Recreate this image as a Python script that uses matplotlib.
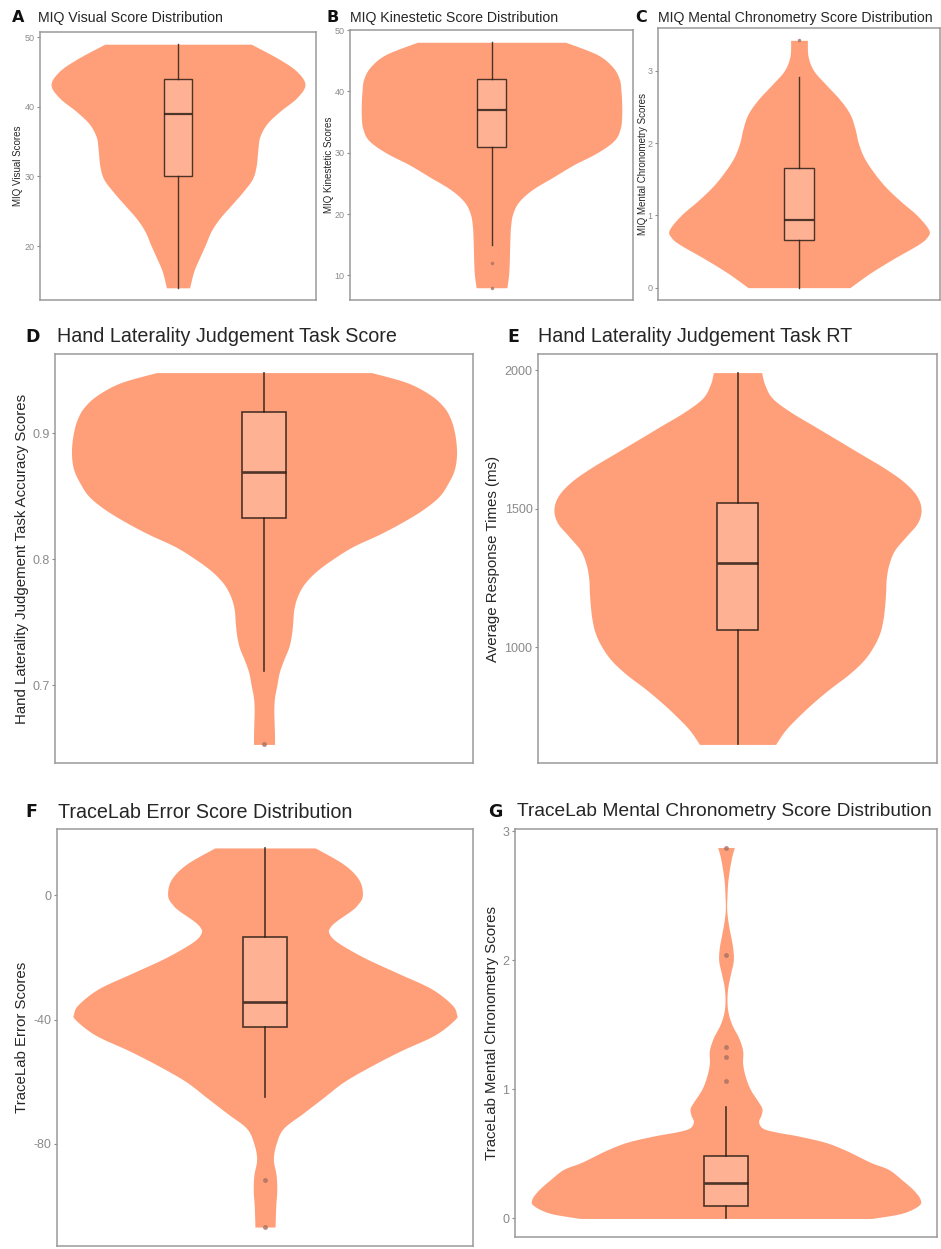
import numpy as np
import matplotlib
matplotlib.use("Agg")
import matplotlib.pyplot as plt

plt.rcParams['font.family'] = ['Liberation Sans', 'DejaVu Sans']

# ---------------- data ----------------
# Violin outlines: y positions and half-widths (relative density)
A_y = [49, 46.9, 45.1, 43.2, 41.3, 39.4, 37.6, 35.7, 33.8, 31.5, 29.6, 27.7, 25.8, 23.9, 22.1, 20.2, 18.3, 16.4, 14]
A_w = [222, 305, 360, 385, 360, 310, 270, 248, 242, 237, 225, 195, 160, 125, 100, 83, 65, 48, 35]

B_y = [48, 46, 44, 42, 40, 38, 36, 34, 32, 30, 28, 26, 24, 22, 20, 18, 16, 14, 12, 10, 8]
B_w = [218, 310, 355, 375, 380, 382, 382, 378, 360, 310, 240, 180, 120, 80, 62, 56, 54, 53, 52, 50, 45]

C_y = [3.42, 3.2, 3.0, 2.8, 2.6, 2.4, 2.2, 2.0, 1.8, 1.6, 1.4, 1.2, 1.0, 0.8, 0.7, 0.6, 0.4, 0.2, 0.0]
C_w = [25, 27, 44, 82, 122, 152, 167, 177, 194, 222, 257, 302, 352, 387, 382, 357, 282, 212, 152]

D_y = [0.948, 0.94, 0.93, 0.92, 0.91, 0.90, 0.89, 0.88, 0.87, 0.86, 0.85, 0.84, 0.83, 0.82, 0.81,
       0.80, 0.79, 0.78, 0.77, 0.76, 0.75, 0.74, 0.73, 0.72, 0.71, 0.70, 0.69, 0.68, 0.67, 0.66, 0.653]
D_w = [318, 423, 493, 533, 553, 563, 568, 568, 561, 543, 518, 473, 413, 343, 263,
       203, 153, 118, 98, 88, 85, 81, 73, 58, 45, 38, 31, 29, 30, 31, 31]

E_y = [1992, 1950, 1900, 1850, 1800, 1750, 1700, 1650, 1600, 1550, 1500, 1450, 1400, 1350,
       1300, 1250, 1200, 1150, 1100, 1050, 1000, 950, 900, 850, 800, 750, 700, 648]
E_w = [73, 82, 105, 160, 230, 300, 370, 440, 500, 540, 555, 545, 510, 475,
       458, 450, 448, 445, 440, 430, 410, 380, 335, 280, 230, 185, 145, 115]

F_y = [15.3, 10, 5, 0, -3, -5, -8, -10, -12, -15, -20, -25, -30, -35, -38, -40, -45, -50,
       -55, -60, -65, -70, -75, -80, -85, -90, -95, -100, -106.8]
F_w = [150, 235, 280, 290, 275, 255, 215, 195, 190, 215, 295, 395, 495, 555, 570, 565, 505, 405,
       315, 235, 175, 115, 55, 33, 25, 33, 35, 32, 30]

G_y = [2.874, 2.8, 2.7, 2.6, 2.5, 2.4, 2.3, 2.2, 2.1, 2.0, 1.9, 1.8, 1.7, 1.6, 1.5, 1.4, 1.3, 1.2,
       1.1, 1.0, 0.9, 0.85, 0.8, 0.75, 0.7, 0.67, 0.64, 0.59, 0.53, 0.48, 0.43, 0.38, 0.3, 0.22,
       0.15, 0.1, 0.04, 0.0]
G_w = [25, 17, 10, 5, 3, 2, 6, 13, 20, 22, 14, 6, 3, 6, 18, 38, 50, 50,
       58, 73, 98, 108, 105, 98, 110, 150, 215, 298, 358, 398, 438, 488, 528, 563,
       583, 578, 528, 438]

# Box plot statistics: [whisker low, Q1, median, Q3, whisker high]
A_box = [14, 30, 39, 44, 49]
B_box = [15, 31, 37, 42, 48]
C_box = [0, 0.655, 0.94, 1.66, 2.92]
D_box = [0.711, 0.833, 0.869, 0.917, 0.948]
E_box = [648, 1060, 1302, 1520, 1992]
F_box = [-64.9, -42.5, -34.4, -13.5, 15.3]
G_box = [0, 0.10, 0.276, 0.482, 0.863]

A_out = []
B_out = [12, 8]
C_out = [3.42]
D_out = [0.653]
E_out = []
F_out = [-91.7, -106.8]
G_out = [1.064, 1.25, 1.327, 2.04, 2.874]

A_ticks = [20, 30, 40, 50]
B_ticks = [10, 20, 30, 40, 50]
C_ticks = [0, 1, 2, 3]
D_ticks = [0.7, 0.8, 0.9]
E_ticks = [1000, 1500, 2000]
F_ticks = [-80, -40, 0]
G_ticks = [0, 1, 2, 3]

letters = ['A', 'B', 'C', 'D', 'E', 'F', 'G']
titles = ['MIQ Visual Score Distribution',
          'MIQ Kinestetic Score Distribution',
          'MIQ Mental Chronometry Score Distribution',
          'Hand Laterality Judgement Task Score',
          'Hand Laterality Judgement Task RT',
          'TraceLab Error Score Distribution',
          'TraceLab Mental Chronometry Score Distribution']
ylabels = ['MIQ Visual Scores',
           'MIQ Kinestetic Scores',
           'MIQ Mental Chronometry Scores',
           'Hand Laterality Judgement Task Accuracy Scores',
           'Average Response Times (ms)',
           'TraceLab Error Scores',
           'TraceLab Mental Chronometry Scores']


def smooth_outline(y, w, n=12):
    """Catmull-Rom curve through the read outline points (rendering only)."""
    P = np.column_stack([y, w]).astype(float)
    P = np.vstack([P[0], P, P[-1]])
    out = []
    t = np.linspace(0, 1, n, endpoint=False)[:, None]
    for k in range(1, len(P) - 2):
        p0, p1, p2, p3 = P[k - 1], P[k], P[k + 1], P[k + 2]
        seg = 0.5 * ((2 * p1) + (-p0 + p2) * t + (2 * p0 - 5 * p1 + 4 * p2 - p3) * t ** 2
                     + (-p0 + 3 * p1 - 3 * p2 + p3) * t ** 3)
        out.append(seg)
    out.append(P[-2][None, :])
    S = np.vstack(out)
    return S[:, 0], np.clip(S[:, 1], 0, None)


# ---------------- layout ----------------
W, H = 941, 1249
fig = plt.figure(figsize=(W / 100, H / 100), dpi=100)

# axes boxes in pixels: left, right, top, bottom
boxes = [(40, 316, 32, 300), (350, 633, 30, 300), (658, 940, 28, 300),
         (55, 473, 354, 763), (538, 937, 354, 763),
         (57, 473, 829, 1246), (515, 937, 829, 1237)]
letter_pos = [(12, 17), (327, 17), (635, 17), (25, 337), (507, 337), (25, 812), (488, 812)]
title_pos = [(38, 18), (350, 18), (658, 18), (57, 337), (538, 337), (58, 812), (517, 812)]
title_size = [10.2, 10.2, 10.2, 14.2, 14.2, 14.2, 13.8]
ylab_x = [18, 329, 643, 22, 493, 22, 492]
small = [True, True, True, False, False, False, False]

violins = [(A_y, A_w), (B_y, B_w), (C_y, C_w), (D_y, D_w), (E_y, E_w), (F_y, F_w), (G_y, G_w)]
boxstats = [A_box, B_box, C_box, D_box, E_box, F_box, G_box]
outs = [A_out, B_out, C_out, D_out, E_out, F_out, G_out]
ticks = [A_ticks, B_ticks, C_ticks, D_ticks, E_ticks, F_ticks, G_ticks]

VIOLIN = '#FE9F7A'
BOXFILL = '#FEB193'
EDGE = (0.18, 0.12, 0.09, 0.85)
SPINE = '#9a9a9a'
TICKC = '#8a8a8a'
HALF = 0.92
BOXW = 0.21

for i in range(7):
    l, r, t, b = boxes[i]
    ax = fig.add_axes([l / W, 1 - b / H, (r - l) / W, (b - t) / H])
    vy = np.array(violins[i][0], dtype=float)
    vw = np.array(violins[i][1], dtype=float)
    vw = vw / vw.max() * HALF
    sy, sw = smooth_outline(vy, vw)
    ax.fill_betweenx(sy, -sw, sw, color=VIOLIN, lw=0, zorder=1)

    wl, q1, med, q3, wh = boxstats[i]
    stats = [dict(whislo=wl, q1=q1, med=med, q3=q3, whishi=wh, fliers=outs[i])]
    sm = small[i]
    lw = 1.0 if sm else 1.2
    ax.bxp(stats, positions=[0], widths=BOXW, patch_artist=True, showcaps=False,
           boxprops=dict(facecolor=BOXFILL, edgecolor=EDGE, linewidth=lw),
           whiskerprops=dict(color=EDGE, linewidth=lw),
           medianprops=dict(color=EDGE, linewidth=lw * 1.6),
           flierprops=dict(marker='o', markersize=2.5 if sm else 3.5,
                           markerfacecolor='#a87060', markeredgecolor='none', alpha=0.8),
           zorder=3, manage_ticks=False)

    lo, hi = vy.min(), vy.max()
    pad = 0.05 * (hi - lo)
    ax.set_ylim(lo - pad, hi + pad)
    ax.set_xlim(-1, 1)
    ax.set_xticks([])
    ax.set_yticks(ticks[i])
    ax.set_yticklabels([('%g' % v) for v in ticks[i]])
    ax.tick_params(axis='y', length=2.5, width=0.8, color=TICKC, labelcolor=TICKC,
                   labelsize=6.5 if sm else 9, pad=1.5)
    for sp in ax.spines.values():
        sp.set_color(SPINE)
        sp.set_linewidth(1.1)

    lx, ly = letter_pos[i]
    fig.text(lx / W, 1 - ly / H, letters[i], fontsize=11.5 if sm else 12.5, fontweight='bold',
             ha='left', va='center', color='#111111', family=['DejaVu Sans'])
    tx, ty = title_pos[i]
    fig.text(tx / W, 1 - ty / H, titles[i], fontsize=title_size[i],
             ha='left', va='center', color='#262626')
    fig.text(ylab_x[i] / W, 1 - ((t + b) / 2) / H, ylabels[i], rotation=90,
             fontsize=7 if sm else 10.8, ha='center', va='center', color='#262626')

fig.savefig('out.png', dpi=100)
